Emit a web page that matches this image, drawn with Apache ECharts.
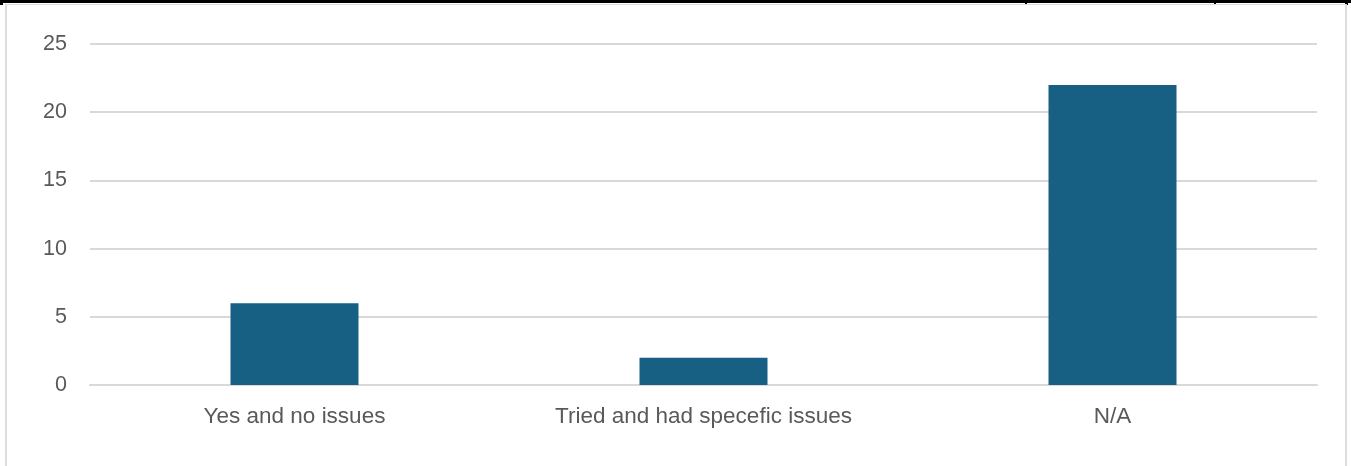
<!DOCTYPE html>
<html>
<head>
<meta charset="utf-8">
<script src="https://cdn.jsdelivr.net/npm/echarts@6/dist/echarts.min.js"></script>
<style>
html,body{margin:0;padding:0;background:#fff;}
#c{width:1351px;height:466px;}
</style>
</head>
<body>
<div id="c"></div>
<script>
const categories = ["Yes and no issues", "Tried and had specefic issues", "N/A"];
const values = [6, 2, 22];
const yTicks = [0, 5, 10, 15, 20, 25];

const chart = echarts.init(document.getElementById('c'), null, {renderer: 'canvas'});
chart.setOption({
  animation: false,
  backgroundColor: '#ffffff',
  grid: {left: 90, right: 34, top: 44, bottom: 81, containLabel: false},
  xAxis: {
    type: 'category',
    data: categories,
    axisLine: {show: true, lineStyle: {color: '#d9d9d9', width: 2}},
    axisTick: {show: false},
    axisLabel: {color: '#595959', fontSize: 22.5, fontFamily: 'Liberation Sans, Arial, sans-serif', margin: 20}
  },
  yAxis: {
    type: 'value',
    min: yTicks[0],
    max: yTicks[yTicks.length - 1],
    interval: 5,
    axisLine: {show: false},
    axisTick: {show: false},
    splitLine: {lineStyle: {color: '#d9d9d9', width: 2}},
    axisLabel: {color: '#595959', fontSize: 21.5, fontFamily: 'Liberation Sans, Arial, sans-serif', margin: 23}
  },
  series: [{
    type: 'bar',
    data: values,
    barWidth: 128,
    itemStyle: {color: '#176083'}
  }],
  graphic: [
    {type: 'rect', shape: {x: 0, y: 0, width: 1351, height: 3}, style: {fill: '#000'}},
    {type: 'rect', shape: {x: 0, y: 0, width: 3, height: 5}, style: {fill: '#000'}},
    {type: 'rect', shape: {x: 1025, y: 0, width: 2, height: 5}, style: {fill: '#000'}},
    {type: 'rect', shape: {x: 1214, y: 0, width: 2, height: 5}, style: {fill: '#000'}},
    {type: 'rect', shape: {x: 1345, y: 0, width: 3, height: 5}, style: {fill: '#000'}},
    {type: 'rect', shape: {x: 5, y: 4, width: 1341, height: 1}, style: {fill: '#dddddd'}},
    {type: 'rect', shape: {x: 5, y: 4, width: 2, height: 462}, style: {fill: '#dddddd'}},
    {type: 'rect', shape: {x: 1345, y: 4, width: 2, height: 462}, style: {fill: '#dddddd'}}
  ]
});
</script>
</body>
</html>
